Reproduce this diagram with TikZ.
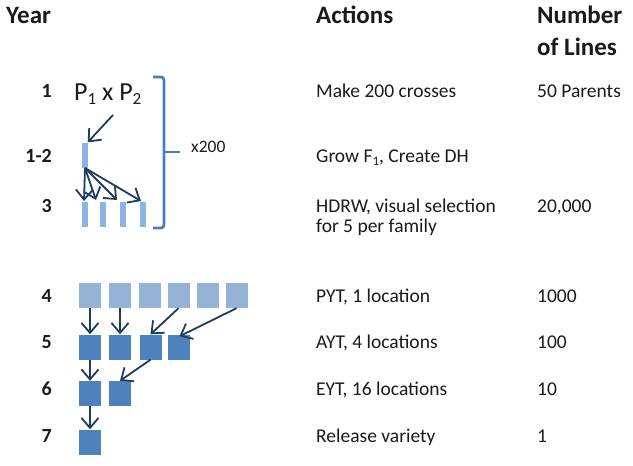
\documentclass[tikz,border=0pt]{standalone}
\usepackage{fontspec}
\setmainfont{Carlito}
\usetikzlibrary{arrows.meta}
\definecolor{lightsq}{HTML}{95B3D7}
\definecolor{darksq}{HTML}{4F81BD}
\definecolor{barblue}{HTML}{8DB4E2}
\definecolor{brk}{HTML}{4A7EBB}
\definecolor{navy}{HTML}{1F3B5E}
\definecolor{txt}{HTML}{1A1A1A}
\newcommand{\mysub}[2]{{\fontsize{#1}{#1}\selectfont\raisebox{-0.28em}{#2}}}
\tikzset{
  hdr/.style={font=\fontsize{25}{30}\selectfont\bfseries, text=txt, inner sep=0pt, anchor=base west},
  yr/.style={font=\fontsize{20}{24}\selectfont\bfseries, text=txt, inner sep=0pt, anchor=base east},
  txtl/.style={font=\fontsize{19.5}{23}\selectfont, text=txt, inner sep=0pt, anchor=base west},
  lsq/.style={fill=lightsq, draw=none, minimum width=22pt, minimum height=25pt, inner sep=0pt},
  dsq/.style={fill=darksq, draw=none, minimum width=22pt, minimum height=25pt, inner sep=0pt},
  barr/.style={fill=barblue, draw=none, minimum width=6pt, minimum height=25pt, inner sep=0pt},
  arr/.style={draw=navy, line width=1.8pt, -{Straight Barb[length=10pt,width=17pt]}}
}
\begin{document}
\begin{tikzpicture}[x=1pt,y=-1pt]
\useasboundingbox (0,0) rectangle (633,466);
% headers
\node[hdr] (hyear) at (6,23) {Year};
\node[hdr] (hact) at (316,23) {Actions};
\node[hdr] (hnum) at (537,23) {Number};
\node[hdr] (hnum2) at (537,55) {of Lines};
% years
\node[yr] (y1) at (52,97) {1};
\node[yr] (y12) at (52,162) {1-2};
\node[yr] (y3) at (52,212) {3};
\node[yr] (y4) at (52,302) {4};
\node[yr] (y5) at (52,348) {5};
\node[yr] (y6) at (52,395) {6};
\node[yr] (y7) at (52,442) {7};
% actions
\node[txtl] (a1) at (316,97) {Make 200 crosses};
\node[txtl] (a2) at (316,162) {Grow F\mysub{13}{1}, Create DH};
\node[txtl] (a3) at (316,212) {HDRW, visual selection};
\node[txtl] (a3b) at (316,232) {for 5 per family};
\node[txtl] (a4) at (316,302) {PYT, 1 location};
\node[txtl] (a5) at (316,348) {AYT, 4 locations};
\node[txtl] (a6) at (316,395) {EYT, 16 locations};
\node[txtl] (a7) at (316,442) {Release variety};
% numbers
\node[txtl] (n1) at (537,97) {50 Parents};
\node[txtl] (n3) at (537,212) {20,000};
\node[txtl] (n4) at (537,302) {1000};
\node[txtl] (n5) at (537,348) {100};
\node[txtl] (n6) at (537,395) {10};
\node[txtl] (n7) at (537,442) {1};
% cross
\node[font=\fontsize{26}{30}\selectfont, text=txt, inner sep=0pt, anchor=base west] (px) at (74,100) {P\mysub{17}{1} x P\mysub{17}{2}};
\node[barr] (b0) at (84.5,155) {};
\node[barr] (b1) at (84.5,214.5) {};
\node[barr] (b2) at (103,214.5) {};
\node[barr] (b3) at (123,214.5) {};
\node[barr] (b4) at (143,214.5) {};
\coordinate (pxs) at (113,115);
\draw[arr] (pxs) -- (b0.north east);
\coordinate (f0) at (85,168);
\coordinate (t1) at (84,201);
\coordinate (t2) at (96,200);
\coordinate (t3) at (117,200);
\coordinate (t4) at (141,201);
\draw[arr] (f0) -- (t1);
\draw[arr] (f0) -- (t2);
\draw[arr] (f0) -- (t3);
\draw[arr] (f0) -- (t4);
% bracket
\draw[brk, line width=2.8pt, rounded corners=3pt] (153,77) -- (164,77) -- (164,228) -- (153,228);
\draw[brk, line width=2.8pt] (164,152) -- (180,152);
\node[font=\fontsize{17.5}{20}\selectfont, text=txt, inner sep=0pt, anchor=base west] (x200) at (191,152) {x200};
% squares
\node[lsq] (s41) at (90,295.5) {};
\node[lsq] (s42) at (120,295.5) {};
\node[lsq] (s43) at (149.5,295.5) {};
\node[lsq] (s44) at (178.5,295.5) {};
\node[lsq] (s45) at (207.5,295.5) {};
\node[lsq] (s46) at (236.5,295.5) {};
\node[dsq] (s51) at (90,347) {};
\node[dsq] (s52) at (120,347) {};
\node[dsq] (s53) at (150.5,347) {};
\node[dsq] (s54) at (178.5,347) {};
\node[dsq] (s61) at (90,393.5) {};
\node[dsq] (s62) at (120,393.5) {};
\node[dsq] (s71) at (90,442) {};
\draw[arr] (s41.south) -- (s51.north);
\draw[arr] (s42.south) -- (s52.north);
\draw[arr] (s44.south) -- (s53.north);
\draw[arr] (s46.south) -- ([xshift=1pt,yshift=-2pt]s54.north);
\draw[arr] (s51.south) -- (s61.north);
\draw[arr] (s53.south) -- (s62.north);
\draw[arr] (s61.south) -- (s71.north);
\end{tikzpicture}
\end{document}
